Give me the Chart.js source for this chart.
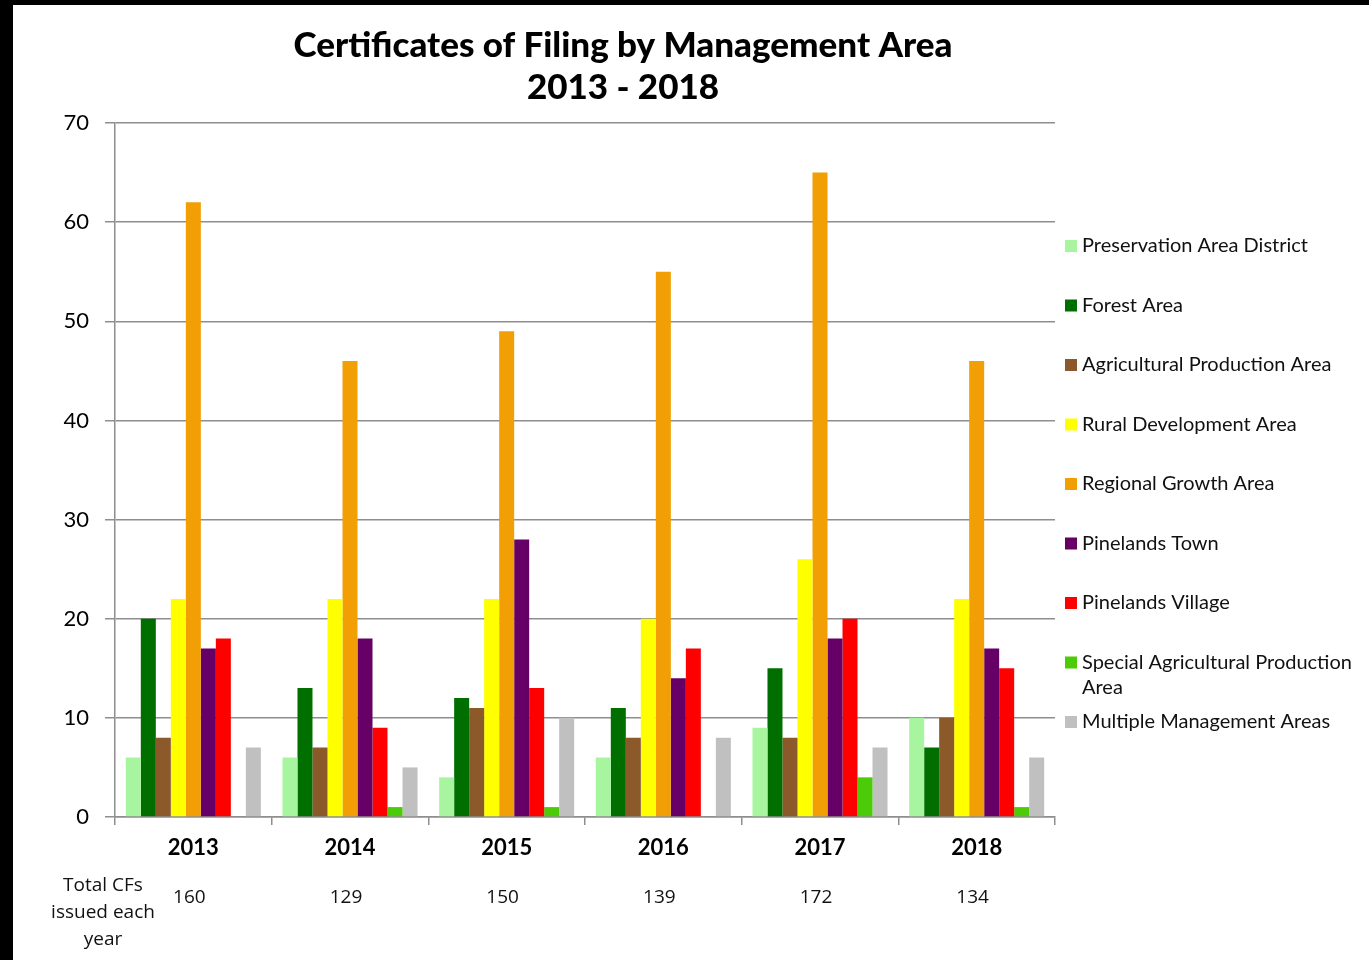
<!DOCTYPE html>
<html>
<head>
<meta charset="utf-8">
<title>Certificates of Filing by Management Area</title>
<script src="https://cdn.jsdelivr.net/npm/chart.js@4.4.1/dist/chart.umd.min.js"></script>
<style>
  html, body { margin: 0; padding: 0; background: #000; }
  #wrap { position: absolute; left: 13px; top: 5px; width: 1356px; height: 955px; background: #fff; }
</style>
</head>
<body>
<div id="wrap"><canvas id="cfChart"></canvas></div>
<script>
// values
const years = ['2013', '2014', '2015', '2016', '2017', '2018'];
const preservationArea = [6, 6, 4, 6, 9, 10];
const forestArea = [20, 13, 12, 11, 15, 7];
const agProduction = [8, 7, 11, 8, 8, 10];
const ruralDevelopment = [22, 22, 22, 20, 26, 22];
const regionalGrowth = [62, 46, 49, 55, 65, 46];
const pinelandsTown = [17, 18, 28, 14, 18, 17];
const pinelandsVillage = [18, 9, 13, 17, 20, 15];
const specialAgProduction = [0, 1, 1, 0, 4, 1];
const multipleAreas = [7, 5, 10, 8, 7, 6];
const totals = [160, 129, 150, 139, 172, 134];
const totalsLabel = ['Total CFs', 'issued each', 'year'];
const titleLines = ['Certificates of Filing by Management Area', '2013 - 2018'];

const gridGray = '#8e8e8e';

// title, centred a bit right of the plot like the original
const titlePlugin = {
    id: 'twoLineTitle',
    afterDraw(chart) {
        const ctx = chart.ctx;
        ctx.save();
        ctx.fillStyle = '#000';
        ctx.font = '900 35px Lato';
        ctx.textAlign = 'center';
        ctx.textBaseline = 'middle';
        const cx = (chart.chartArea.left + chart.chartArea.right) / 2 + 38;
        ctx.fillText(titleLines[0], cx, 41);
        ctx.fillText(titleLines[1], cx, 83);
        ctx.restore();
    }
};

// legend on the right, wraps long names
const sideLegend = {
    id: 'sideLegend',
    afterDraw(chart) {
        const ctx = chart.ctx;
        const x = chart.chartArea.right + 10;
        let y = 241;
        ctx.save();
        ctx.font = '20px Lato';
        ctx.textBaseline = 'middle';
        chart.data.datasets.forEach(ds => {
            ctx.fillStyle = ds.backgroundColor;
            ctx.fillRect(x, y - 6, 12, 12);
            ctx.fillStyle = '#111';
            const words = ds.label.split(' ');
            const lines = [];
            let line = '';
            words.forEach(w => {
                const test = line ? line + ' ' + w : w;
                if (ctx.measureText(test).width > 280 && line) {
                    lines.push(line);
                    line = w;
                } else {
                    line = test;
                }
            });
            lines.push(line);
            lines.forEach((l, i) => ctx.fillText(l, x + 17, y + i * 25));
            y += 59.5;
        });
        ctx.restore();
    }
};

// totals row under the year labels
const totalsRow = {
    id: 'totalsRow',
    afterDraw(chart) {
        const ctx = chart.ctx;
        const xScale = chart.scales.x;
        ctx.save();
        ctx.fillStyle = '#111';
        ctx.font = '19px "Open Sans"';
        ctx.textAlign = 'center';
        ctx.textBaseline = 'middle';
        totalsLabel.forEach((t, i) => ctx.fillText(t, 90, 881 + i * 27));
        totals.forEach((v, i) => ctx.fillText(String(v), xScale.getPixelForValue(i) - 4, 893));
        ctx.restore();
    }
};

const series = [
    ['Preservation Area District', preservationArea, '#A8F5A0'],
    ['Forest Area', forestArea, '#006F00'],
    ['Agricultural Production Area', agProduction, '#8C5A2A'],
    ['Rural Development Area', ruralDevelopment, '#FFFF00'],
    ['Regional Growth Area', regionalGrowth, '#F29E05'],
    ['Pinelands Town', pinelandsTown, '#660066'],
    ['Pinelands Village', pinelandsVillage, '#FF0000'],
    ['Special Agricultural Production Area', specialAgProduction, '#4CCC08'],
    ['Multiple Management Areas', multipleAreas, '#C0C0C0']
];

new Chart(document.getElementById('cfChart'), {
    type: 'bar',
    data: {
        labels: years,
        datasets: series.map(([label, data, color]) => ({
            label: label,
            data: data,
            backgroundColor: color,
            borderWidth: 0,
            categoryPercentage: 0.862,
            barPercentage: 1
        }))
    },
    options: {
        responsive: true,
        maintainAspectRatio: false,
        animation: false,
        layout: { padding: { top: 118, left: 30, right: 314, bottom: 97 } },
        plugins: {
            legend: { display: false },
            title: { display: false },
            tooltip: { enabled: false }
        },
        scales: {
            x: {
                afterFit: s => { s.height = 46; },
                grid: { offset: true, drawOnChartArea: false, drawTicks: true, tickLength: 8, color: gridGray, lineWidth: 1.5 },
                border: { display: true, color: gridGray, width: 1.5 },
                ticks: { color: '#000', font: { family: 'Lato', size: 22, weight: 'bold' }, padding: 10 }
            },
            y: {
                min: 0,
                max: 70,
                afterFit: s => { s.width = 72; },
                grid: { color: gridGray, lineWidth: 1.5, tickLength: 10 },
                border: { display: true, color: gridGray, width: 1.5 },
                ticks: { stepSize: 10, color: '#000', font: { family: 'Lato', size: 22 }, padding: 16 }
            }
        }
    },
    plugins: [titlePlugin, sideLegend, totalsRow]
});
</script>
</body>
</html>
